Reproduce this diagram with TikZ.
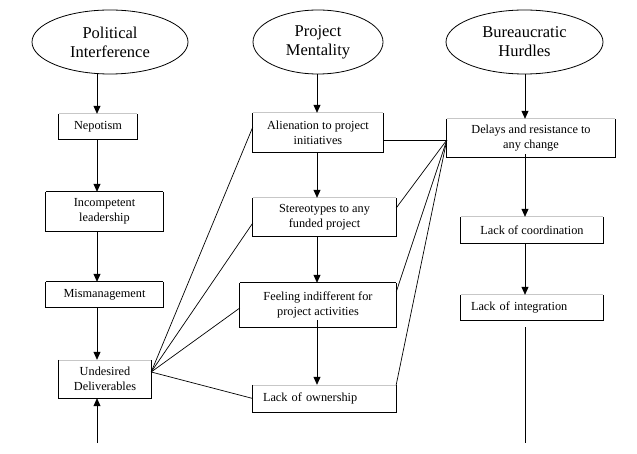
\documentclass[tikz,border=0pt]{standalone}
\usepackage{fontspec}
\setmainfont{Liberation Serif}
\usetikzlibrary{shapes.geometric,arrows.meta,calc}
\begin{document}
\begin{tikzpicture}[x=1pt,y=-1pt,
  oval/.style={ellipse,draw,line width=0.8pt,inner sep=0pt,minimum height=64pt,align=center,font=\fontsize{16.5}{19}\selectfont},
  box/.style={rectangle,inner sep=0pt,align=center,font=\fontsize{12.3}{15}\selectfont},
  arr/.style={line width=0.8pt,-{Triangle[length=8pt,width=7pt]}},
  link/.style={line width=0.7pt},
  edgeline/.style={line width=0.8pt},
  faintline/.style={black!22,line width=0.6pt}]
\useasboundingbox (0,0) rectangle (637,454);
\fill[white] (0,0) rectangle (637,454);

% ellipses
\node[oval,minimum width=156pt] (pi) at (110,42) {Political\\Interference};
\node[oval,minimum width=130pt] (pm) at (318,42) {Project\\Mentality};
\node[oval,minimum width=157pt] (bh) at (524.5,42) {Bureaucratic\\Hurdles};

% column 1
\node[box,minimum width=78pt,minimum height=25pt] (nep) at (98,126.5) {Nepotism};
\node[box,minimum width=117pt,minimum height=39pt] (inc) at (104.5,211.5) {Incompetent\\leadership};
\node[box,minimum width=117pt,minimum height=25pt] (mis) at (104.5,294.5) {Mismanagement};
\node[box,minimum width=92pt,minimum height=38pt] (und) at (105,379) {Undesired\\Deliverables};

% column 2
\node[box,minimum width=130pt,minimum height=39pt] (ali) at (318,132.5) {Alienation to project\\initiatives};
\node[box,minimum width=143pt,minimum height=38pt] (ste) at (324.5,217) {Stereotypes to any\\funded project};
\node[box,minimum width=156pt,minimum height=44pt] (fee) at (318,305) {Feeling indifferent for\\project activities};
\node[box,minimum width=143pt,minimum height=27pt,text width=123pt,align=left] (own) at (324.5,398.5) {Lack of ownership};

% column 3
\node[box,minimum width=168pt,minimum height=38pt] (del) at (531,138) {Delays and resistance to\\any change};
\node[box,minimum width=142pt,minimum height=26pt] (coo) at (532,230) {Lack of coordination};
\node[box,minimum width=142pt,minimum height=25pt,text width=122pt,align=left] (int) at (532,307.5) {Lack of integration};

% box borders (top edges faint where the reference shows them faint)
\foreach \n in {nep,und,ali,ste,own,del,coo,int} {
  \draw[faintline] (\n.north west) -- (\n.north east);
}
\foreach \n in {inc,mis,fee} {
  \draw[edgeline] (\n.north west) -- (\n.north east);
}
\foreach \n in {nep,inc,mis,und,ali,ste,fee,own,del,coo,int} {
  \draw[edgeline] (\n.north west) -- (\n.south west) -- (\n.south east) -- (\n.north east);
}

% column axes
\coordinate (cA) at (97,0);
\coordinate (cB) at (317,0);
\coordinate (cC) at (525,0);

% vertical arrows
\draw[arr] (pi.south -| cA) -- (nep.north -| cA);
\draw[arr] (nep.south -| cA) -- (inc.north -| cA);
\draw[arr] (inc.south -| cA) -- (mis.north -| cA);
\draw[arr] (mis.south -| cA) -- (und.north -| cA);
\coordinate (ubot) at (97,443);
\draw[arr] (ubot) -- (und.south -| cA);

\draw[arr] (pm.south -| cB) -- (ali.north -| cB);
\draw[arr] (ali.south -| cB) -- (ste.north -| cB);
\draw[arr] (ste.south -| cB) -- (fee.north -| cB);
\draw[arr] ([yshift=7pt]fee.south -| cB) -- (own.north -| cB);

\draw[arr] (bh.south -| cC) -- (del.north -| cC);
\draw[arr] ([yshift=3pt]del.south -| cC) -- (coo.north -| cC);
\draw[arr] (coo.south -| cC) -- (int.north -| cC);
\coordinate (itop) at (525,327);
\coordinate (ibot) at (525,443);
\draw[link] (itop) -- (ibot);

% fan from Undesired Deliverables
\coordinate (uf) at ([yshift=7pt]und.east);
\draw[link] (uf) -- ([yshift=5.5pt]ali.west);
\draw[link] (uf) -- ([yshift=-6pt]ste.west);
\draw[link] (uf) -- ([yshift=-3pt]fee.west);
\draw[link] (uf) -- (own.west);

% fan from Delays
\coordinate (df) at ([yshift=-2pt]del.west);
\draw[link] (df) -- ([yshift=-7.5pt]ali.east);
\draw[link] (df) -- ([yshift=9pt]ste.east);
\draw[link] (df) -- ([yshift=13pt]fee.east);
\draw[link] (df) -- (own.north east);
\end{tikzpicture}
\end{document}
